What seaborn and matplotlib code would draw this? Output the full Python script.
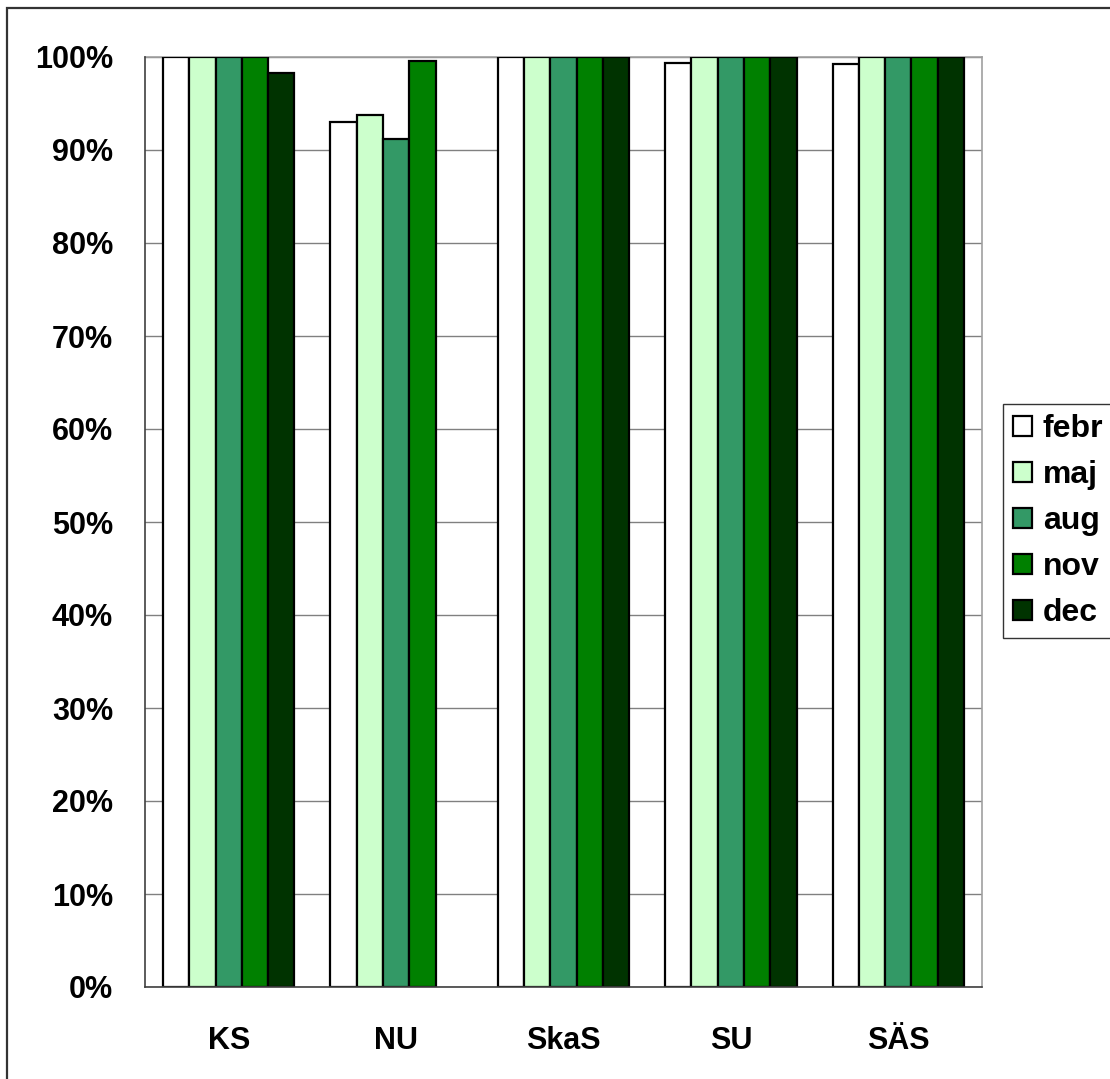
import numpy as np
import pandas as pd
import matplotlib
matplotlib.use("Agg")
import matplotlib.pyplot as plt
import matplotlib.patches as mpatches
from matplotlib.ticker import FixedLocator, PercentFormatter
import seaborn as sns

# data
sites = ["KS", "NU", "SkaS", "SU", "SÄS"]
months = ["febr", "maj", "aug", "nov", "dec"]
febr = [100, 93.0, 100, 99.4, 99.2]
maj = [100, 93.8, 100, 100, 100]
aug = [100, 91.2, 100, 100, 100]
nov = [100, 99.6, 100, 100, 100]
dec = [98.3, np.nan, 100, 100, 100]   # no dec bar for NU

colors = ["#FFFFFF", "#CCFFCC", "#339966", "#008000", "#003300"]

rows = []
for m, vals in zip(months, [febr, maj, aug, nov, dec]):
    for s, v in zip(sites, vals):
        if not np.isnan(v):
            rows.append({"site": s, "month": m, "value": v})
df = pd.DataFrame(rows)

sns.set_style("white")
plt.rcParams["font.family"] = ["Liberation Sans", "DejaVu Sans"]
plt.rcParams["font.weight"] = "bold"
plt.rcParams["text.color"] = "black"
plt.rcParams["xtick.color"] = "black"
plt.rcParams["ytick.color"] = "black"

fig = plt.figure(figsize=(11.1, 10.79), dpi=100)
ax = fig.add_axes([145 / 1110, 1 - 987 / 1079, (982 - 145) / 1110, (987 - 57) / 1079])

sns.barplot(data=df, x="site", y="value", hue="month",
            order=sites, hue_order=months, palette=colors, saturation=1,
            width=0.785, edgecolor="black", linewidth=1.6,
            errorbar=None, ax=ax, zorder=3)

ax.set_ylim(0, 100)
ax.set_xlim(-0.5, len(sites) - 0.5)
ax.set_yticks(np.arange(0, 101, 10))
ax.yaxis.set_major_formatter(PercentFormatter(decimals=0))
ax.grid(axis="y", color="#808080", lw=1.0, zorder=0)
ax.set_xlabel("")
ax.set_ylabel("")

# category ticks sit on the group boundaries, labels at the centres
ax.xaxis.set_minor_locator(FixedLocator(np.arange(-0.5, len(sites), 1.0)))
ax.tick_params(axis="x", which="minor", length=7, width=1, color="#404040", direction="out")
ax.tick_params(axis="x", which="major", length=0, pad=28, labelsize=22, labelcolor="black")
ax.tick_params(axis="y", length=7, width=1, color="#404040", direction="out", pad=16,
               labelsize=22, labelcolor="black")
for lab in ax.get_xticklabels() + ax.get_yticklabels():
    lab.set_fontweight("bold")

for side in ["top", "right"]:
    ax.spines[side].set_color("#a0a0a0")
    ax.spines[side].set_linewidth(1.2)
for side in ["left", "bottom"]:
    ax.spines[side].set_color("#404040")
    ax.spines[side].set_linewidth(1.2)
    ax.spines[side].set_zorder(5)

ax.legend_.remove()
handles = [mpatches.Patch(facecolor=c, edgecolor="black", lw=1.6) for c in colors]
leg = fig.legend(handles, months, loc="center left",
                 bbox_to_anchor=(1003 / 1110, 1 - 521 / 1079),
                 prop={"size": 23, "weight": "bold"},
                 frameon=True, fancybox=False, edgecolor="black",
                 handlelength=0.58, handleheight=0.58, handletextpad=0.35,
                 labelspacing=0.5, borderpad=0.32, borderaxespad=0)
leg.get_frame().set_linewidth(1.0)
for t in leg.get_texts():
    t.set_color("black")

# outer chart border (right and bottom run off the picture)
fig.patches.append(mpatches.Rectangle((7 / 1110, -0.1), 2, 1 - 8 / 1079 + 0.1,
                                      transform=fig.transFigure, fill=False,
                                      edgecolor="#333333", lw=1.6))

fig.savefig("out.png", dpi=100)
